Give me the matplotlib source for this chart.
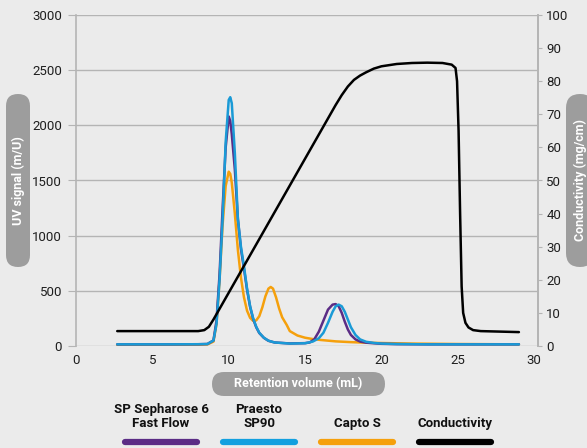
import matplotlib
matplotlib.use("Agg")
import matplotlib.pyplot as plt
from matplotlib.patches import FancyBboxPatch
from matplotlib.transforms import IdentityTransform

# ---------------- data ----------------
praesto_x = [2.7, 4, 6, 8, 8.6, 9.0, 9.2, 9.4, 9.6, 9.8, 10.0, 10.1, 10.2, 10.4, 10.6, 10.8,
             11.0, 11.2, 11.4, 11.6, 11.8, 12.0, 12.3, 12.6, 13.0, 14.0, 15.0, 15.5, 15.9,
             16.2, 16.5, 16.8, 17.0, 17.2, 17.4, 17.6, 17.8, 18.0, 18.3, 18.6, 19.0, 19.5,
             20.0, 21.0, 23.0, 25.0, 27.0, 29.0]
praesto_y = [15, 15, 15, 16, 18, 50, 200, 600, 1150, 1850, 2230, 2255, 2200, 1750, 1150, 900,
             720, 520, 360, 250, 175, 120, 75, 48, 32, 22, 25, 40, 70,
             120, 210, 310, 360, 375, 360, 310, 240, 170, 100, 60, 38, 28,
             22, 18, 15, 15, 15, 15]

sepharose_x = [2.7, 4, 6, 8, 8.6, 9.0, 9.2, 9.4, 9.6, 9.8, 10.0, 10.1, 10.2, 10.4, 10.6, 10.8,
               11.0, 11.2, 11.4, 11.6, 11.8, 12.0, 12.3, 12.6, 13.0, 14.0, 15.0, 15.3, 15.6,
               15.9, 16.2, 16.5, 16.8, 17.0, 17.2, 17.4, 17.6, 17.8, 18.0, 18.3, 18.6, 19.0,
               20.0, 21.0, 23.0, 25.0, 27.0, 29.0]
sepharose_y = [15, 15, 15, 16, 18, 50, 230, 650, 1250, 1800, 2080, 2040, 1920, 1600, 1150, 880,
               700, 510, 355, 245, 170, 118, 74, 47, 32, 23, 26, 32, 60,
               130, 230, 330, 375, 380, 360, 300, 220, 150, 100, 60, 40, 30,
               20, 17, 15, 15, 15, 15]

capto_x = [2.7, 4, 6, 8, 8.6, 9.0, 9.2, 9.4, 9.6, 9.8, 10.0, 10.1, 10.2, 10.4, 10.6, 10.8,
           11.0, 11.2, 11.4, 11.6, 11.8, 12.0, 12.2, 12.4, 12.6, 12.75, 12.9, 13.1, 13.3,
           13.5, 13.8, 14.0, 14.5, 15.0, 15.5, 16.0, 17.0, 18.0, 19.0, 20.0, 22.0, 25.0, 29.0]
capto_y = [10, 10, 10, 11, 14, 40, 200, 600, 1100, 1450, 1580, 1560, 1480, 1200, 870, 620,
           440, 320, 255, 228, 232, 270, 350, 450, 520, 535, 520, 440, 340,
           260, 190, 135, 95, 75, 63, 55, 42, 35, 30, 27, 22, 18, 15]

cond_x = [2.7, 5.0, 8.0, 8.4, 8.7, 9.0, 10.0, 11.0, 12.0, 13.0, 14.0, 15.0, 16.0, 17.0, 17.4,
          17.8, 18.2, 18.6, 19.0, 19.5, 20.0, 21.0, 22.0, 23.0, 24.0, 24.6, 24.85, 24.95, 25.05,
          25.15, 25.25, 25.35, 25.5, 25.7, 26.0, 26.5, 29.0]
cond_y = [4.5, 4.5, 4.5, 4.8, 5.8, 8.0, 16.1, 24.2, 32.3, 40.4, 48.5, 56.6, 64.7, 72.8, 75.8,
          78.4, 80.4, 81.7, 82.7, 83.8, 84.5, 85.2, 85.5, 85.6, 85.5, 85.0, 84.0, 80.0, 65.0,
          40.0, 18.0, 10.0, 7.0, 5.6, 4.8, 4.5, 4.2]

x_ticks = [0, 5, 10, 15, 20, 25, 30]
uv_ticks = [0, 500, 1000, 1500, 2000, 2500, 3000]
cond_ticks = [0, 10, 20, 30, 40, 50, 60, 70, 80, 90, 100]

legend_labels = ["SP Sepharose 6\nFast Flow", "Praesto\nSP90", "Capto S", "Conductivity"]
legend_colors = ["#5b2c85", "#12a0df", "#f5a00c", "#000000"]

# ---------------- style ----------------
BG = "#ebebeb"
GRID = "#b4b4b4"
BOXC = "#9d9d9d"
plt.rcParams["font.family"] = ["Roboto", "DejaVu Sans"]

W, H = 587, 448
fig = plt.figure(figsize=(W / 100, H / 100), dpi=100, facecolor=BG)
ax = fig.add_axes([76 / W, (H - 346) / H, 462 / W, 331 / H])
ax.set_facecolor(BG)

ax.plot(capto_x, capto_y, color="#f5a00c", lw=1.8, zorder=3, solid_capstyle="round")
ax.plot(sepharose_x, sepharose_y, color="#5b2c85", lw=1.8, zorder=4, solid_capstyle="round")
ax.plot(praesto_x, praesto_y, color="#1a9ad6", lw=1.8, zorder=5, solid_capstyle="round")

ax.set_xlim(0, 30.25)
ax.set_ylim(0, 3000)
ax.set_xticks(x_ticks)
ax.set_yticks(uv_ticks)
ax.grid(axis="y", color=GRID, lw=1.0)
ax.set_axisbelow(True)
for s in ["top", "bottom"]:
    ax.spines[s].set_visible(False)
for s in ["left", "right"]:
    ax.spines[s].set_color(GRID)
    ax.spines[s].set_linewidth(1.2)
ax.tick_params(axis="y", length=6, color=GRID, pad=4, labelsize=9.5, labelcolor="#1e1e1e")
ax.tick_params(axis="x", length=0, pad=6, labelsize=9.5, labelcolor="#1e1e1e")

ax2 = ax.twinx()
ax2.set_ylim(0, 100)
ax2.set_yticks(cond_ticks)
ax2.plot(cond_x, cond_y, color="black", lw=1.8, zorder=6, solid_capstyle="round",
         solid_joinstyle="round")
for s in ["top", "bottom", "left"]:
    ax2.spines[s].set_visible(False)
ax2.spines["right"].set_color(GRID)
ax2.spines["right"].set_linewidth(1.2)
ax2.tick_params(axis="y", length=3, color=GRID, pad=3, labelsize=9.5, labelcolor="#1e1e1e")

# ---------------- axis label pills (pixel coords) ----------------
def pill(x0, y0_top, w, h, text, rot):
    y0 = H - y0_top - h
    p = FancyBboxPatch((x0, y0), w, h, boxstyle="round,pad=0,rounding_size=%g" % (min(w, h) / 2),
                       transform=IdentityTransform(), facecolor=BOXC, edgecolor="none")
    fig.patches.append(p)
    fig.text((x0 + w / 2) / W, (y0 + h / 2) / H, text, rotation=rot, ha="center", va="center",
             color="white", fontsize=9, fontweight="bold")

pill(6, 94, 24, 173, "UV signal (m/U)", 90)
pill(566, 94, 28, 173, "Conductivity (mg/cm)", 90)
pill(212, 372, 173, 24, "Retention volume (mL)", 0)

# ---------------- legend ----------------
centers = [161, 259, 357, 455]
for lab, col, cx in zip(legend_labels, legend_colors, centers):
    fig.text(cx / W, (H - 427) / H, lab, ha="center", va="baseline", fontsize=9.5,
             fontweight="bold", color="#111111", linespacing=1.15)
    fig.add_artist(plt.Line2D([(cx - 36) / W, (cx + 36) / W], [(H - 442) / H, (H - 442) / H],
                              transform=fig.transFigure, color=col, lw=4.5,
                              solid_capstyle="round"))

fig.savefig("out.png", dpi=100, facecolor=BG)
